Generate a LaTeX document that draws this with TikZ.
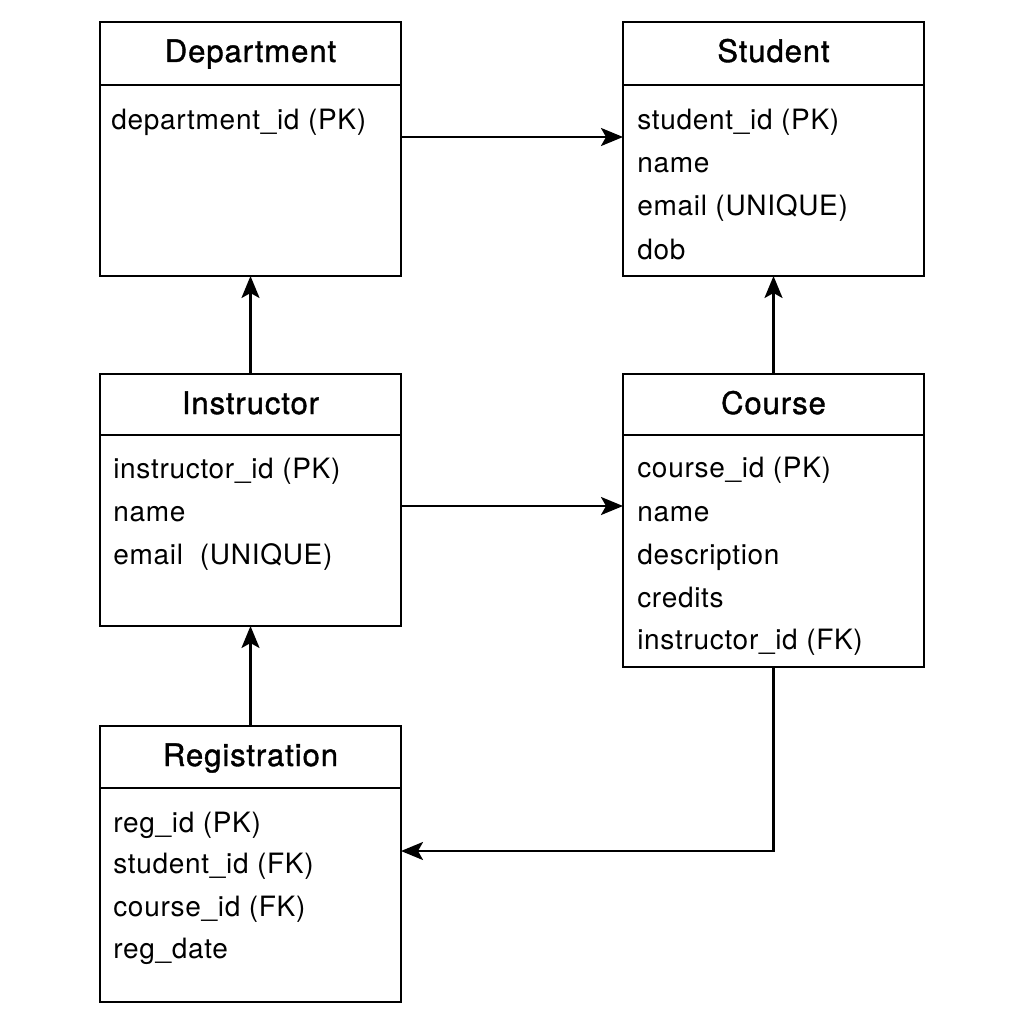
\documentclass[tikz,border=0pt]{standalone}
\usepackage{fontspec}
\setmainfont{TeX Gyre Heros}
\newfontfamily\attrfont[LetterSpace=2.5]{TeX Gyre Heros}
\newfontfamily\titlefont[LetterSpace=3,FakeBold=1.2]{TeX Gyre Heros}
\usetikzlibrary{arrows.meta}
\begin{document}
\begin{tikzpicture}[x=1pt,y=-1pt,line width=2.6pt,
	entity_box/.style={rectangle,draw,minimum width=301pt,anchor=north west,inner sep=0pt,outer sep=0pt},
	title_node/.style={anchor=base,inner sep=0pt,font=\titlefont\fontsize{31}{33}\selectfont},
	attr_node/.style={anchor=base west,inner sep=0pt,font=\attrfont\fontsize{28}{30}\selectfont},
	link/.style={-{Stealth[length=22pt,width=18pt,inset=5pt]}}]
		
		\useasboundingbox (0,0) rectangle (1024,1024);
		
		% tables
		\node[entity_box,minimum height=254pt] (dept) at (100,22) {};
		\node[entity_box,minimum height=254pt] (stud) at (623,22) {};
		\node[entity_box,minimum height=252pt] (instr) at (100,374) {};
		\node[entity_box,minimum height=293pt] (course) at (623,374) {};
		\node[entity_box,minimum height=276pt] (reg) at (100,726) {};
		
		% header lines
		\draw ([yshift=-63pt]dept.north west) -- ([yshift=-63pt]dept.north east);
		\draw ([yshift=-63pt]stud.north west) -- ([yshift=-63pt]stud.north east);
		\draw ([yshift=-61pt]instr.north west) -- ([yshift=-61pt]instr.north east);
		\draw ([yshift=-61pt]course.north west) -- ([yshift=-61pt]course.north east);
		\draw ([yshift=-62pt]reg.north west) -- ([yshift=-62pt]reg.north east);
		
		% titles
		\node[title_node] (dept_title) at ([yshift=-40pt]dept.north) {Department};
		\node[title_node] (stud_title) at ([yshift=-40pt]stud.north) {Student};
		\node[title_node] (instr_title) at ([yshift=-40pt]instr.north) {Instructor};
		\node[title_node] (course_title) at ([yshift=-40pt]course.north) {Course};
		\node[title_node] (reg_title) at ([yshift=-40pt]reg.north) {Registration};
		
		% attributes
		\node[attr_node] (dept_a1) at ([xshift=10pt,yshift=-108pt]dept.north west) {department\_id (PK)};
		
		\node[attr_node] (stud_a1) at ([xshift=13pt,yshift=-108pt]stud.north west) {student\_id (PK)};
		\node[attr_node] (stud_a2) at ([xshift=13pt,yshift=-151pt]stud.north west) {name};
		\node[attr_node] (stud_a3) at ([xshift=13pt,yshift=-194pt]stud.north west) {email (UNIQUE)};
		\node[attr_node] (stud_a4) at ([xshift=13pt,yshift=-237pt]stud.north west) {dob};
		
		\node[attr_node] (instr_a1) at ([xshift=12pt,yshift=-104pt]instr.north west) {instructor\_id (PK)};
		\node[attr_node] (instr_a2) at ([xshift=12pt,yshift=-147pt]instr.north west) {name};
		\node[attr_node] (instr_a3) at ([xshift=12pt,yshift=-190pt]instr.north west) {email\ \ (UNIQUE)};
		
		\node[attr_node] (course_a1) at ([xshift=13pt,yshift=-103pt]course.north west) {course\_id (PK)};
		\node[attr_node] (course_a2) at ([xshift=13pt,yshift=-147pt]course.north west) {name};
		\node[attr_node] (course_a3) at ([xshift=13pt,yshift=-190pt]course.north west) {description};
		\node[attr_node] (course_a4) at ([xshift=13pt,yshift=-233pt]course.north west) {credits};
		\node[attr_node] (course_a5) at ([xshift=13pt,yshift=-275pt]course.north west) {instructor\_id (FK)};
		
		\node[attr_node] (reg_a1) at ([xshift=12pt,yshift=-106pt]reg.north west) {reg\_id (PK)};
		\node[attr_node] (reg_a2) at ([xshift=12pt,yshift=-147pt]reg.north west) {student\_id (FK)};
		\node[attr_node] (reg_a3) at ([xshift=12pt,yshift=-190pt]reg.north west) {course\_id (FK)};
		\node[attr_node] (reg_a4) at ([xshift=12pt,yshift=-232pt]reg.north west) {reg\_date};
		
		% relations
		\draw[link] ([yshift=12pt]dept.east) -- ([yshift=12pt]dept.east -| stud.west);
		\draw[link] (instr.north) -- (dept.south);
		\draw[link] (course.north) -- (stud.south);
		\draw[link] ([yshift=-6pt]instr.east) -- ([yshift=-6pt]instr.east -| course.west);
		\draw[link] (reg.north) -- (instr.south);
		\draw[link] (course.south) |- ([yshift=13pt]reg.east);
		\end{tikzpicture}
\end{document}
